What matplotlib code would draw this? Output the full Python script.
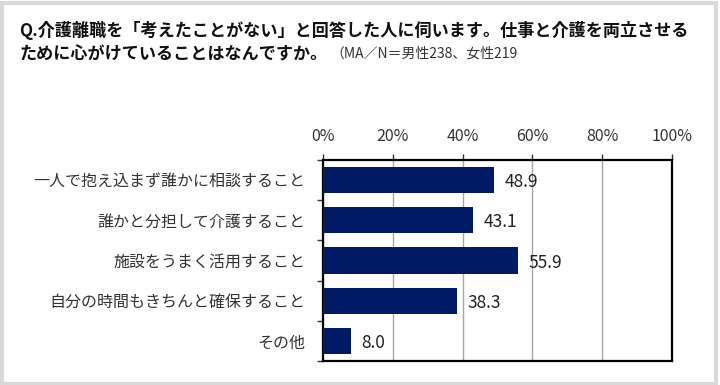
import matplotlib
matplotlib.use("Agg")
import matplotlib.pyplot as plt
import matplotlib.patches as patches
import numpy as np

plt.rcParams['font.family'] = ['Noto Sans CJK JP', 'DejaVu Sans']

categories = ["一人で抱え込まず誰かに相談すること", "誰かと分担して介護すること",
              "施設をうまく活用すること", "自分の時間もきちんと確保すること", "その他"]
values = [48.9, 43.1, 55.9, 38.3, 8.0]
xticks = [0, 20, 40, 60, 80, 100]
xtick_labels = ["0%", "20%", "40%", "60%", "80%", "100%"]

title1 = "Q.介護離職を「考えたことがない」と回答した人に伺います。仕事と介護を両立させる"
title2 = "ために心がけていることはなんですか。"
note = "（MA／N＝男性238、女性219"

W, H = 720, 385
fig = plt.figure(figsize=(W/100, H/100), dpi=100)
fig.patch.set_facecolor("white")

ax = fig.add_axes([323/W, 1-361/H, (672-323)/W, (361-160)/H])
y = np.arange(len(categories))
ax.barh(y, values, height=0.65, color="#001a66", zorder=3)
ax.set_ylim(len(categories)-0.5, -0.5)
ax.set_xlim(0, 100)
for yi, v in zip(y, values):
    ax.text(v + 3.0, yi + 0.05, f"{v:.1f}", va="center", ha="left", fontsize=12.5, color="#222222", zorder=4)

ax.xaxis.tick_top()
ax.set_xticks(xticks)
ax.set_xticklabels(xtick_labels, fontsize=11.5, color="#333333")
ax.tick_params(axis="x", direction="out", length=4, width=1, pad=7, colors="#333333")
ax.set_yticks(np.arange(-0.5, len(categories), 1.0))
ax.set_yticklabels([])
ax.set_yticks(y, minor=True)
ax.set_yticklabels(categories, minor=True, fontsize=11.5, color="#333333")
ax.tick_params(axis="y", which="major", direction="out", length=4, width=1, color="#333333")
ax.tick_params(axis="y", which="minor", length=0, pad=13)
ax.grid(axis="x", color="#a6a6a6", linewidth=1, zorder=1)
for s in ax.spines.values():
    s.set_color("black")
    s.set_linewidth(1.6)

fig.text(19/W, 1-30/H, title1, fontsize=12.3, fontweight="bold", va="center", ha="left", color="#111111")
t2 = fig.text(19/W, 1-54/H, title2, fontsize=12.3, fontweight="bold", va="center", ha="left", color="#111111")
fig.canvas.draw()
bb = t2.get_window_extent(renderer=fig.canvas.get_renderer())
fig.text(bb.x1/W + 3/W, 1-54/H, note, fontsize=10, va="center", ha="left", color="#333333")

fig.patches.append(patches.Rectangle((1.5/W, 1.5/H), (W-6)/W, (H-4)/H, transform=fig.transFigure,
                                     fill=False, edgecolor="#d9d9d9", linewidth=3))

fig.savefig("out.png", dpi=100)
